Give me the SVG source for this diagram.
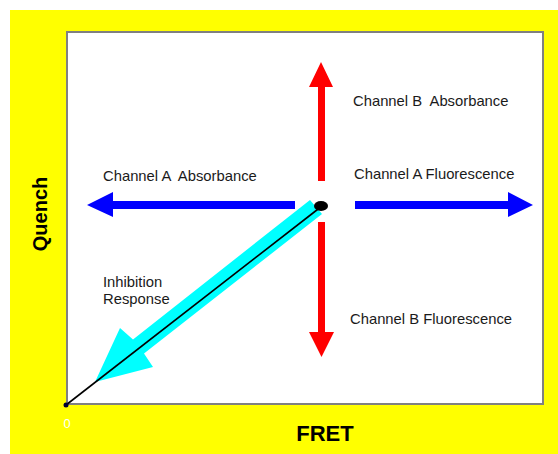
<svg xmlns="http://www.w3.org/2000/svg" width="558" height="454" viewBox="0 0 558 454">
  <style>
    .lbl { font-family: "Liberation Sans", Arial, sans-serif; font-size: 14.8px; fill: #1a1a1a; }
    .axis { font-family: "Liberation Sans", Arial, sans-serif; font-weight: bold; fill: #000; }
    .red { fill: #FF0000; }
    .blue { fill: #0000FF; }
  </style>
  <rect x="0" y="0" width="558" height="454" fill="#FFFFFF"/>
  <rect x="10" y="10" width="548" height="444" fill="#FFFF00"/>
  <rect id="plot" x="67" y="32" width="476" height="372" fill="#FFFFFF" stroke="#808080" stroke-width="2"/>

  <g id="connectors">
    <polygon class="red" points="318,181 325,181 325,87 333,87 321,62 309,87 318,87"/>
    <polygon class="red" points="318,222 325,222 325,332 334,332 321.5,357 309,332 318,332"/>
    <polygon class="blue" points="295,201 295,209 113,209 113,217 87,205 113,192 113,201"/>
    <polygon class="blue" points="355,201 355,209 508,209 508,217 533,205 508,192 508,201"/>
    <polygon fill="#00FFFF" points="310,200 322,214 144,353.6 153,367 95,382 120,328 133,339.4"/>
    <line x1="322" y1="206" x2="66" y2="405" stroke="#000" stroke-width="1.6"/>
    <ellipse cx="321" cy="206" rx="7" ry="5" fill="#000"/>
    <circle cx="66" cy="405" r="2.5" fill="#000033"/>
  </g>

  <g id="label-b-abs"><text class="lbl" x="353" y="106" xml:space="preserve">Channel B  Absorbance</text></g>
  <g id="label-a-abs"><text class="lbl" x="103" y="181" xml:space="preserve">Channel A  Absorbance</text></g>
  <g id="label-a-fluo"><text class="lbl" x="354" y="179">Channel A Fluorescence</text></g>
  <g id="label-b-fluo"><text class="lbl" x="350" y="324">Channel B Fluorescence</text></g>
  <g id="label-inhibition">
    <text class="lbl" x="103" y="287">Inhibition</text>
    <text class="lbl" x="103" y="304">Response</text>
  </g>
  <g id="axis-quench"><text class="axis" font-size="20" text-anchor="middle" transform="translate(47,214) rotate(-90)">Quench</text></g>
  <g id="axis-fret"><text class="axis" font-size="22" x="325" y="441" text-anchor="middle">FRET</text></g>
  <g id="origin"><text x="67" y="428" font-family="Liberation Sans, Arial, sans-serif" font-size="13" fill="#FFFFFF" text-anchor="middle">0</text></g>
</svg>
